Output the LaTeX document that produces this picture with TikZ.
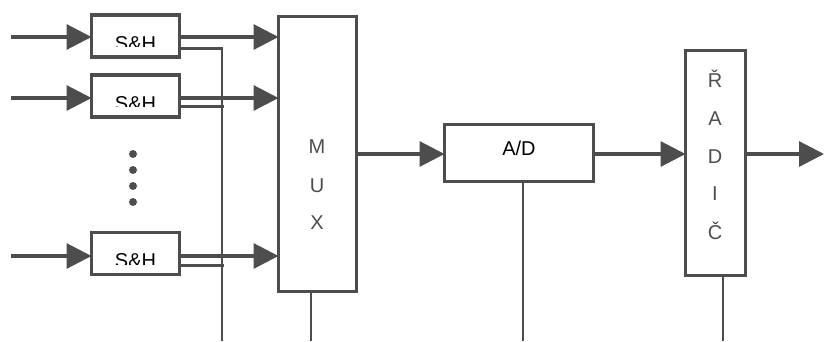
\documentclass[tikz,border=0pt]{standalone}
\usepackage{fontspec}
\setmainfont{Liberation Sans}
\usetikzlibrary{arrows.meta}
\definecolor{lc}{HTML}{4D4D4D}
\definecolor{tc}{HTML}{4D4D4D}
\begin{document}
\begin{tikzpicture}[x=1pt,y=-1pt,
  blk/.style={draw=lc, line width=3.2pt, fill=white, inner sep=0pt, outer sep=0pt},
  arr/.style={draw=lc, line width=3.2pt, -{Triangle[length=25pt,width=25pt]}},
  wire/.style={draw=lc, line width=3pt},
  ctl/.style={draw=lc, line width=2.2pt},
  lbl/.style={font=\fontsize{20}{24}\selectfont, text=black, inner sep=0pt},
  glbl/.style={font=\fontsize{20}{24}\selectfont, text=tc, inner sep=0pt, anchor=base}]
\useasboundingbox (0,0) rectangle (824,341);

% blocks
\node[blk, minimum width=88pt, minimum height=42pt] (s1) at (135.5,36) {};
\node[blk, minimum width=88pt, minimum height=42pt] (s2) at (135.5,96) {};
\node[blk, minimum width=88pt, minimum height=42pt] (s3) at (135.5,253.5) {};
\node[blk, minimum width=78pt, minimum height=275pt] (mux) at (317.5,154) {};
\node[blk, minimum width=149pt, minimum height=57pt] (ad) at (519,153) {};
\node[blk, minimum width=60pt, minimum height=225pt] (rad) at (715.5,163) {};

% clipped S&H labels
\begin{scope}
\clip (91,36) rectangle (180,46.5);
\node[lbl, anchor=north] (t1) at (135.5,36) {S\&H};
\end{scope}
\begin{scope}
\clip (91,96.5) rectangle (180,106.5);
\node[lbl, anchor=north] (t2) at (135.5,96.5) {S\&H};
\end{scope}
\begin{scope}
\clip (91,253) rectangle (180,264.5);
\node[lbl, anchor=north] (t3) at (135.5,253) {S\&H};
\end{scope}

% MUX letters
\node[glbl] (m1) at (317,153) {M};
\node[glbl] (m2) at (317,192) {U};
\node[glbl] (m3) at (317,229) {X};
% A/D
\node[lbl, anchor=base] (adt) at (519,155) {A/D};
% RADIC letters
\node[glbl] (r1) at (715,87) {Ř};
\node[glbl] (r2) at (715,125) {A};
\node[glbl] (r3) at (715,163) {D};
\node[glbl] (r4) at (715,200) {I};
\node[glbl] (r5) at (715,239) {Č};

% inputs
\coordinate (in1) at (11,37);
\coordinate (in2) at (11,98);
\coordinate (in3) at (11,256);
\draw[arr] (in1) -- (in1 -| s1.west);
\draw[arr] (in2) -- (in2 -| s2.west);
\draw[arr] (in3) -- (in3 -| s3.west);

% S&H -> MUX
\draw[arr] (s1.east |- in1) -- (mux.west |- in1);
\draw[arr] (s2.east |- in2) -- (mux.west |- in2);
\draw[arr] (s3.east |- in3) -- (mux.west |- in3);

% control lines
\coordinate (c1) at (222,341);
\draw[wire] (s1.east |- 0,48) -- (223,48);
\draw[ctl] (222,47) -- (c1);
\draw[wire] (s2.east |- 0,106) -- (224,106);
\draw[wire] (s3.east |- 0,265) -- (224,265);
\coordinate (c2) at (311,341);
\draw[ctl] (mux.south -| c2) -- (c2);
\coordinate (c3) at (523,341);
\draw[ctl] (ad.south -| c3) -- (c3);
\coordinate (c4) at (723,341);
\draw[ctl] (rad.south -| c4) -- (c4);

% main chain
\coordinate (ya) at (0,154);
\draw[arr] (mux.east |- ya) -- (ad.west |- ya);
\draw[arr] (ad.east |- ya) -- (rad.west |- ya);
\coordinate (out) at (824,154);
\draw[arr] (rad.east |- ya) -- (out);

% dots
\foreach \y/\n in {154/d1,170/d2,186/d3,202/d4}
  \node[circle, fill=lc, inner sep=0pt, minimum size=8pt] (\n) at (133,\y) {};
\end{tikzpicture}
\end{document}
